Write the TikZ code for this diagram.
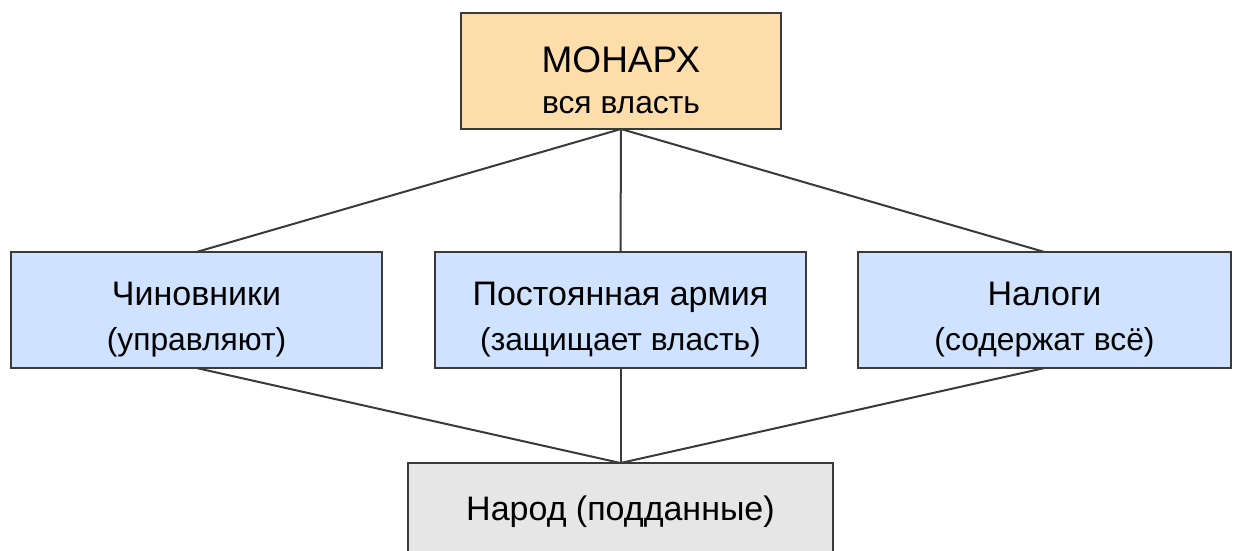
\documentclass[tikz,border=0pt]{standalone}
\usepackage{fontspec}
\setmainfont{Liberation Sans}
\definecolor{edge}{HTML}{3A3A3A}
\definecolor{monfill}{HTML}{FDDDAA}
\definecolor{midfill}{HTML}{CFE2FF}
\definecolor{botfill}{HTML}{E6E6E6}
\begin{document}
\begin{tikzpicture}[x=1pt,y=1pt,
  box/.style={draw=edge,line width=2pt,minimum width=#1,minimum height=116pt,inner sep=0pt,outer sep=0pt},
  conn/.style={draw=edge,line width=2pt},
  head/.style={anchor=base,inner sep=0pt,font=\fontsize{34}{40}\selectfont},
  sub/.style={anchor=base,inner sep=0pt,font=\fontsize{31.8}{40}\selectfont},
  big/.style={anchor=base,inner sep=0pt,font=\fontsize{37}{40}\selectfont}]
\useasboundingbox (0,0) rectangle (1233,-550);
\clip (0,0) rectangle (1233,-550);
\fill[white] (0,0) rectangle (1233,-550);
% boxes
\node[box=320pt,fill=monfill] (mon) at (621,-71) {};
\node[box=371pt,fill=midfill] (chin) at (196.5,-310) {};
\node[box=371pt,fill=midfill] (army) at (620.5,-310) {};
\node[box=373pt,fill=midfill] (nal) at (1044.5,-310) {};
\node[box=425pt,fill=botfill,minimum height=118pt] (nar) at (620.5,-522) {};
% connectors
\draw[conn] (mon.south) -- (chin.north);
\draw[conn] (mon.south) -- (army.north);
\draw[conn] (mon.south) -- (nal.north);
\draw[conn] (chin.south) -- (nar.north);
\draw[conn] (army.south) -- (nar.north);
\draw[conn] (nal.south) -- (nar.north);
% texts
\node[big] (t1) at (621,-72) {МОНАРХ};
\node[sub] (t2) at (621,-113) {вся власть};
\node[head] (t3) at (196.5,-305) {Чиновники};
\node[sub] (t4) at (196.5,-350) {(управляют)};
\node[head] (t5) at (620.5,-305) {Постоянная армия};
\node[sub] (t6) at (620.5,-350) {(защищает власть)};
\node[head] (t7) at (1044.5,-305) {Налоги};
\node[sub] (t8) at (1044.5,-350) {(содержат всё)};
\node[head] (t9) at (620.5,-520) {Народ (подданные)};
\end{tikzpicture}
\end{document}
